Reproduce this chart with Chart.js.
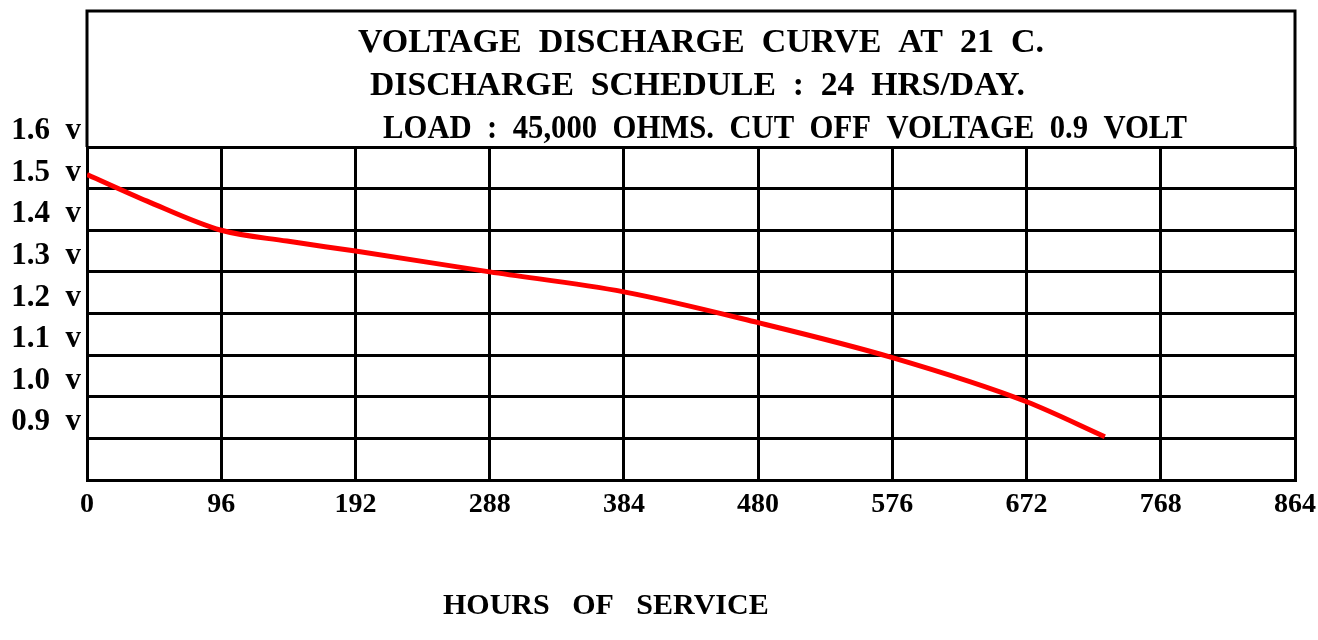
<!DOCTYPE html>
<html>
<head>
<meta charset="utf-8">
<script src="https://cdn.jsdelivr.net/npm/chart.js@4.4.0/dist/chart.umd.min.js"></script>
<style>
    html, body { margin: 0; padding: 0; background: #fff; }
    #wrap { width: 1318px; height: 640px; }
</style>
</head>
<body>
<div id="wrap"><canvas id="dischargeChart"></canvas></div>
<script>
// Curve: hours of service vs volts
const hours = [0, 43, 96, 143, 192, 288, 384, 480, 576, 672, 728];
const volts = [1.484, 1.420, 1.350, 1.324, 1.300, 1.250, 1.202, 1.128, 1.044, 0.938, 0.854];

// Axis ticks
const hourTicks = [0, 96, 192, 288, 384, 480, 576, 672, 768, 864];
const voltGrid = [0.75, 0.85, 0.95, 1.05, 1.15, 1.25, 1.35, 1.45, 1.55];
const voltLabels = ['', '0.9  v', '1.0  v', '1.1  v', '1.2  v', '1.3  v', '1.4  v', '1.5  v', '1.6  v'];

// Texts
const titleLines = [
    'VOLTAGE  DISCHARGE  CURVE  AT  21  C.',
    'DISCHARGE  SCHEDULE  :  24  HRS/DAY.',
    'LOAD  :  45,000  OHMS.  CUT  OFF  VOLTAGE  0.9  VOLT'
];
const xAxisTitle = 'HOURS   OF   SERVICE';

const serif = "'Liberation Serif', 'Times New Roman', serif";

// Draws the title box above the grid and the axis title below it
const titleBox = {
    id: 'titleBox',
    afterDraw(chart) {
        const { ctx, chartArea } = chart;
        const boxTop = 11;
        ctx.save();
        ctx.strokeStyle = '#000';
        ctx.lineWidth = 3;
        ctx.beginPath();
        ctx.moveTo(chartArea.left, chartArea.top);
        ctx.lineTo(chartArea.left, boxTop);
        ctx.lineTo(chartArea.right, boxTop);
        ctx.lineTo(chartArea.right, chartArea.top);
        ctx.stroke();

        ctx.fillStyle = '#000';
        ctx.textBaseline = 'middle';
        ctx.textAlign = 'left';
        ctx.font = 'bold 34px ' + serif;
        const starts = [358, 370, 383];
        const widths = [687, 655, 804];
        const rows = [43, 86, 129];
        titleLines.forEach((line, i) => {
            ctx.fillText(line, starts[i], rows[i], widths[i]);
        });

        ctx.font = 'bold 30px ' + serif;
        ctx.fillText(xAxisTitle, 443, 606, 330);
        ctx.restore();
    }
};

const ctx = document.getElementById('dischargeChart').getContext('2d');
new Chart(ctx, {
    type: 'line',
    data: {
        datasets: [{
            data: hours.map((h, i) => ({ x: h, y: volts[i] })),
            borderColor: '#ff0000',
            borderWidth: 5,
            pointRadius: 0,
            cubicInterpolationMode: 'monotone',
            fill: false
        }]
    },
    options: {
        responsive: true,
        maintainAspectRatio: false,
        animation: false,
        layout: {
            padding: { top: 147, right: 23, left: 0, bottom: 0 }
        },
        scales: {
            x: {
                type: 'linear',
                min: 0,
                max: 864,
                afterBuildTicks: scale => { scale.ticks = hourTicks.map(v => ({ value: v })); },
                afterFit: scale => {
                    scale.height = 160;
                    scale.paddingLeft = 0;
                    scale.paddingRight = 0;
                },
                grid: { color: '#000', lineWidth: 3, drawTicks: false },
                border: { display: true, color: '#000', width: 3 },
                ticks: {
                    color: '#000',
                    padding: 8,
                    maxRotation: 0,
                    autoSkip: false,
                    font: { family: serif, size: 28, weight: 'bold' }
                }
            },
            y: {
                type: 'linear',
                min: 0.75,
                max: 1.55,
                afterBuildTicks: scale => { scale.ticks = voltGrid.map(v => ({ value: v })); },
                afterFit: scale => {
                    scale.width = 87;
                    scale.paddingTop = 0;
                    scale.paddingBottom = 0;
                },
                grid: { color: '#000', lineWidth: 3, drawTicks: false },
                border: { display: true, color: '#000', width: 3 },
                ticks: {
                    color: '#000',
                    padding: 6,
                    autoSkip: false,
                    labelOffset: -16,
                    callback: (value, index) => voltLabels[index],
                    font: { family: serif, size: 31, weight: 'bold' }
                }
            }
        },
        plugins: {
            legend: { display: false },
            tooltip: { enabled: false }
        }
    },
    plugins: [titleBox]
});
</script>
</body>
</html>
